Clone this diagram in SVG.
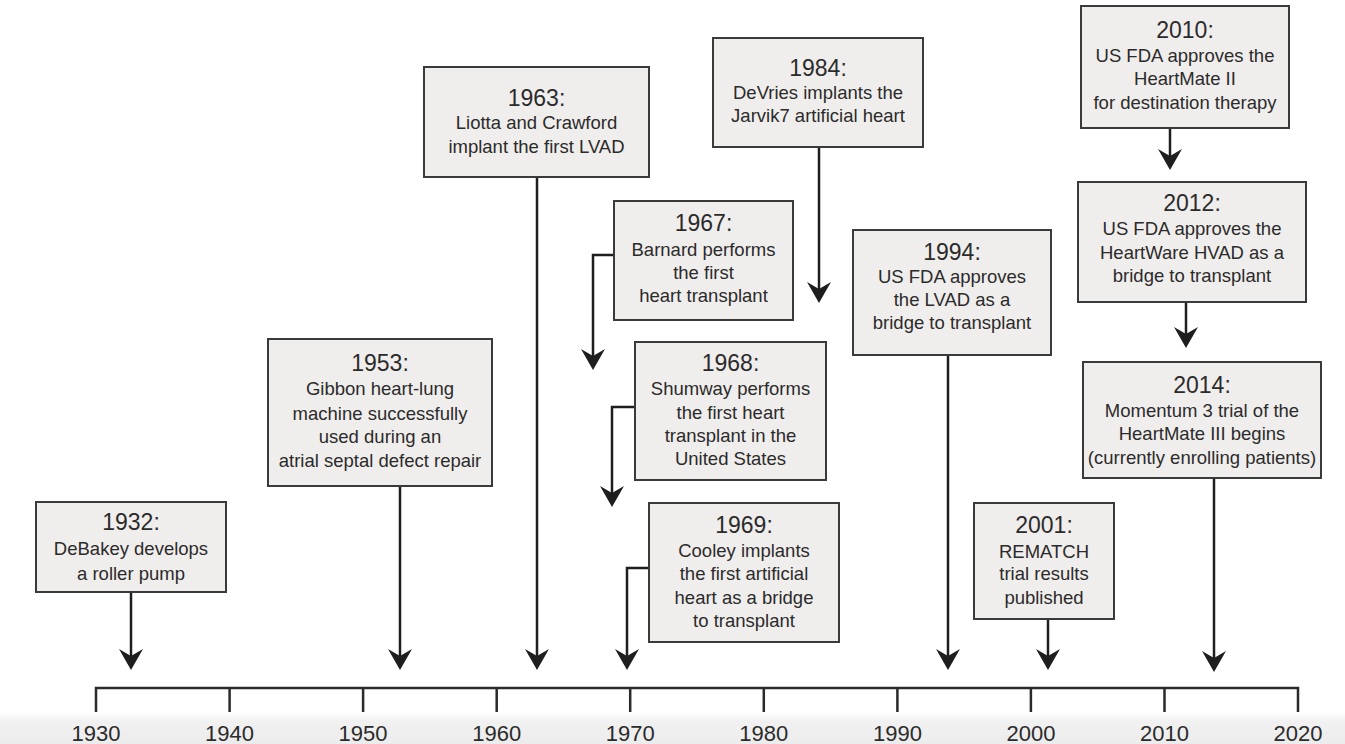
<svg xmlns="http://www.w3.org/2000/svg" width="1345" height="744" viewBox="0 0 1345 744">
<style>
.box{fill:#f0eeec;stroke:#3a3a3a;stroke-width:2}
.yr{font-family:"Liberation Sans",Arial,Helvetica,sans-serif;font-size:23px;fill:#2b2b2b;text-anchor:middle}
.tx{font-family:"Liberation Sans",Arial,Helvetica,sans-serif;font-size:18.5px;fill:#2b2b2b;text-anchor:middle}
.ax{font-family:"Liberation Sans",Arial,Helvetica,sans-serif;font-size:22px;fill:#2b2b2b;text-anchor:middle}
.con{fill:none;stroke:#1e1e1e;stroke-width:2.5;marker-end:url(#ah)}
.axis{fill:none;stroke:#2a2a2a;stroke-width:2.5}
</style>
<defs>
<marker id="ah" viewBox="-23 -13 25 26" refX="-8" refY="0" markerWidth="25" markerHeight="26" markerUnits="userSpaceOnUse" orient="auto">
<path d="M0,0 L-21,-12 L-14,0 L-21,12 Z" fill="#1e1e1e"/>
</marker>
<linearGradient id="bg" x1="0" y1="0" x2="0" y2="1">
<stop offset="0" stop-color="#ffffff"/>
<stop offset="0.3" stop-color="#f1f1f1"/>
<stop offset="1" stop-color="#ececec"/>
</linearGradient>
</defs>
<rect x="0" y="0" width="1345" height="744" fill="#ffffff"/>
<rect x="0" y="712" width="1345" height="32" fill="url(#bg)"/>

<g id="connectors">
<path class="con" d="M131,592 V662"/>
<path class="con" d="M400,486 V662"/>
<path class="con" d="M537,177 V662"/>
<path class="con" d="M614,255 H593 V362"/>
<path class="con" d="M635,407 H612 V499"/>
<path class="con" d="M649,568 H627 V662"/>
<path class="con" d="M819,147 V295"/>
<path class="con" d="M948,355 V662"/>
<path class="con" d="M1048,619 V662"/>
<path class="con" d="M1170,128 V162"/>
<path class="con" d="M1186,302 V340"/>
<path class="con" d="M1214,478 V664"/>
</g>

<g id="axis">
<path class="axis" d="M96,712 V688 H1298 V712 M229.6,688 V712 M363.1,688 V712 M496.7,688 V712 M630.2,688 V712 M763.8,688 V712 M897.4,688 V712 M1030.9,688 V712 M1164.5,688 V712"/>
<text class="ax" x="96" y="741">1930</text>
<text class="ax" x="229.6" y="741">1940</text>
<text class="ax" x="363.1" y="741">1950</text>
<text class="ax" x="496.7" y="741">1960</text>
<text class="ax" x="630.2" y="741">1970</text>
<text class="ax" x="763.8" y="741">1980</text>
<text class="ax" x="897.4" y="741">1990</text>
<text class="ax" x="1030.9" y="741">2000</text>
<text class="ax" x="1164.5" y="741">2010</text>
<text class="ax" x="1298" y="741">2020</text>
</g>

<g id="n1932">
<rect class="box" x="36" y="502" width="190" height="90"/>
<text class="yr" x="131" y="530">1932:</text>
<text class="tx" x="131" y="555">DeBakey develops</text>
<text class="tx" x="131" y="580">a roller pump</text>
</g>

<g id="n1953">
<rect class="box" x="268" y="339" width="224" height="147"/>
<text class="yr" x="380" y="371">1953:</text>
<text class="tx" x="380" y="395">Gibbon heart-lung</text>
<text class="tx" x="380" y="420">machine successfully</text>
<text class="tx" x="380" y="443">used during an</text>
<text class="tx" x="380" y="467">atrial septal defect repair</text>
</g>

<g id="n1963">
<rect class="box" x="424" y="67" width="225" height="110"/>
<text class="yr" x="536.5" y="106">1963:</text>
<text class="tx" x="536.5" y="129">Liotta and Crawford</text>
<text class="tx" x="536.5" y="153">implant the first LVAD</text>
</g>

<g id="n1967">
<rect class="box" x="614" y="201" width="179" height="119"/>
<text class="yr" x="703.5" y="231">1967:</text>
<text class="tx" x="703.5" y="256">Barnard performs</text>
<text class="tx" x="703.5" y="279">the first</text>
<text class="tx" x="703.5" y="302">heart transplant</text>
</g>

<g id="n1968">
<rect class="box" x="635" y="342" width="191" height="138"/>
<text class="yr" x="730.5" y="371">1968:</text>
<text class="tx" x="730.5" y="395">Shumway performs</text>
<text class="tx" x="730.5" y="419">the first heart</text>
<text class="tx" x="730.5" y="442">transplant in the</text>
<text class="tx" x="730.5" y="465">United States</text>
</g>

<g id="n1969">
<rect class="box" x="649" y="503" width="190" height="139"/>
<text class="yr" x="744" y="533">1969:</text>
<text class="tx" x="744" y="557">Cooley implants</text>
<text class="tx" x="744" y="580">the first artificial</text>
<text class="tx" x="744" y="604">heart as a bridge</text>
<text class="tx" x="744" y="627">to transplant</text>
</g>

<g id="n1984">
<rect class="box" x="713" y="38" width="210" height="109"/>
<text class="yr" x="818" y="76">1984:</text>
<text class="tx" x="818" y="99">DeVries implants the</text>
<text class="tx" x="818" y="122">Jarvik7 artificial heart</text>
</g>

<g id="n1994">
<rect class="box" x="853" y="230" width="198" height="125"/>
<text class="yr" x="952" y="260">1994:</text>
<text class="tx" x="952" y="283">US FDA approves</text>
<text class="tx" x="952" y="306">the LVAD as a</text>
<text class="tx" x="952" y="329">bridge to transplant</text>
</g>

<g id="n2001">
<rect class="box" x="974" y="503" width="140" height="116"/>
<text class="yr" x="1044" y="533">2001:</text>
<text class="tx" x="1044" y="558">REMATCH</text>
<text class="tx" x="1044" y="580">trial results</text>
<text class="tx" x="1044" y="604">published</text>
</g>

<g id="n2010">
<rect class="box" x="1081" y="6" width="208" height="122"/>
<text class="yr" x="1185" y="38">2010:</text>
<text class="tx" x="1185" y="62">US FDA approves the</text>
<text class="tx" x="1185" y="85">HeartMate II</text>
<text class="tx" x="1185" y="109">for destination therapy</text>
</g>

<g id="n2012">
<rect class="box" x="1078" y="182" width="228" height="120"/>
<text class="yr" x="1192" y="211">2012:</text>
<text class="tx" x="1192" y="235">US FDA approves the</text>
<text class="tx" x="1192" y="259">HeartWare HVAD as a</text>
<text class="tx" x="1192" y="282">bridge to transplant</text>
</g>

<g id="n2014">
<rect class="box" x="1083" y="362" width="238" height="116"/>
<text class="yr" x="1202" y="393">2014:</text>
<text class="tx" x="1202" y="417">Momentum 3 trial of the</text>
<text class="tx" x="1202" y="440">HeartMate III begins</text>
<text class="tx" x="1202" y="464">(currently enrolling patients)</text>
</g>
</svg>
